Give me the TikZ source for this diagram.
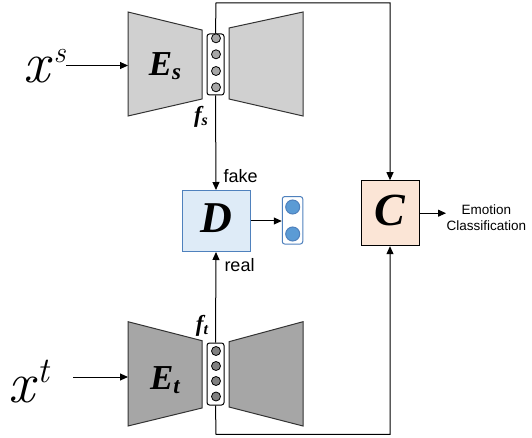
\documentclass[tikz,border=0pt]{standalone}
\usepackage{fontspec}
\usepackage{tikz}
\usetikzlibrary{arrows.meta}
\newfontfamily\timesfont{Liberation Serif}
\newfontfamily\arialfont{Liberation Sans}
\definecolor{srcgray}{HTML}{D0D0D0}
\definecolor{tgtgray}{HTML}{A6A6A6}
\definecolor{dfill}{HTML}{DEEBF7}
\definecolor{dline}{HTML}{4F81BD}
\definecolor{dunit}{HTML}{5B9BD5}
\definecolor{cfill}{HTML}{FBE5D6}
% bold italic letter with a bold italic subscript
\newcommand{\bisub}[4]{{\timesfont\bfseries\itshape\fontsize{#3}{#3}\selectfont #1\raisebox{-0.12em}{\fontsize{#4}{#4}\selectfont #2}}}
% italic input symbol with a raised index
\newcommand{\inp}[3]{{\itshape\fontsize{58}{58}\selectfont x\hspace{#3}\raisebox{20pt}{\fontsize{#2}{#2}\selectfont #1}}}

\begin{document}
\begin{tikzpicture}[x=1pt,y=-1pt,line width=1pt,>={Triangle[length=8pt,width=7pt]},
  featbox/.style={draw, rounded corners=2.5pt, fill=white, minimum width=17pt, minimum height=61pt, inner sep=0pt},
  unit/.style={circle, draw, line width=0.8pt, inner sep=0pt, minimum size=9pt},
  bigbox/.style={draw, inner sep=0pt, minimum width=68pt, minimum height=61pt},
  txt/.style={font=\arialfont\fontsize{18}{20}\selectfont, inner sep=0pt}]
\useasboundingbox (0,0) rectangle (532,438);
% draws source encoder and decoder
\draw[fill=srcgray, draw=black!80] (128,12) -- (202,30) -- (202,99) -- (128,116) -- cycle;
\draw[fill=srcgray, draw=black!80] (229,28) -- (303,12) -- (303,116) -- (229,99) -- cycle;
\coordinate (esin) at (128,65.5);
\node (es) at (165,66) {\bisub{E}{s}{35}{23}};
% draws target encoder and decoder
\draw[fill=tgtgray, draw=black!80] (128,321.7) -- (202,340.7) -- (202,408) -- (128,426) -- cycle;
\draw[fill=tgtgray, draw=black!80] (229,341.7) -- (303,321.7) -- (303,426) -- (229,407) -- cycle;
\coordinate (etin) at (128,377);
\node (et) at (165,380) {\bisub{E}{t}{35}{23}};
% draws feature columns
\node[featbox] (fs) at (215.5,64.5) {};
\foreach \i/\y in {1/38.3,2/54.3,3/71,4/87.3}
  \node[unit, fill=tgtgray] (fs\i) at (216,\y) {};
\node[featbox, minimum height=62pt] (ft) at (215.5,374) {};
\foreach \i/\y in {1/351,2/366,3/381,4/396.5}
  \node[unit, fill=black!50] (ft\i) at (216,\y) {};
\node (fslab) at (201,117) {\bisub{f}{s}{23}{16}};
\node (ftlab) at (202,326) {\bisub{f}{t}{23}{16}};
% draws inputs
\node[anchor=base west, inner sep=0pt] (xs) at (23,83) {\inp{s}{30}{4pt}};
\node[anchor=base west, inner sep=0pt] (xt) at (8,402) {\inp{t}{36}{3pt}};
\coordinate (xtout) at (73,377);
% draws discriminator and classifier
\node[bigbox, draw=dline, fill=dfill] (D) at (216,221) {\bisub{D}{}{44}{10}};
\node[draw=dline, fill=white, rounded corners=2.5pt, minimum width=20.5pt, minimum height=47.5pt, inner sep=0pt] (dout) at (292.5,220.3) {};
\node[circle, draw=dline, fill=dunit, inner sep=0pt, minimum size=14pt] (d1) at (292.7,207) {};
\node[circle, draw=dline, fill=dunit, inner sep=0pt, minimum size=14pt] (d2) at (292.7,234) {};
\node[bigbox, minimum width=58pt, minimum height=65pt, fill=cfill] (C) at (390,213.2) {\bisub{C}{}{46}{10}};
\node[txt, font=\arialfont\fontsize{13.5}{16}\selectfont, align=center, anchor=west] (emo) at (446,218) {Emotion\\Classification};
\node[txt, anchor=base west] (fake) at (223,183) {fake};
\node[txt, anchor=base west] (real) at (224,271.5) {real};
% draws connectors
\coordinate (top) at (216,3);
\coordinate (bot) at (216,434.3);
\draw[->] (xs.east |- esin) -- (esin);
\draw[->] (xtout) -- (etin);
\draw[->] (fs.south) -- (D.north);
\draw[->] (ft.north) -- (D.south);
\draw[->] (fs.north) -- (top) -| (C.north);
\draw[->] (ft.south) -- (bot) -| (C.south);
\draw[->] (D.east) -- (D.east -| dout.west);
\draw[->] (C.east) -- (C.east -| emo.west);
\end{tikzpicture}
\end{document}
